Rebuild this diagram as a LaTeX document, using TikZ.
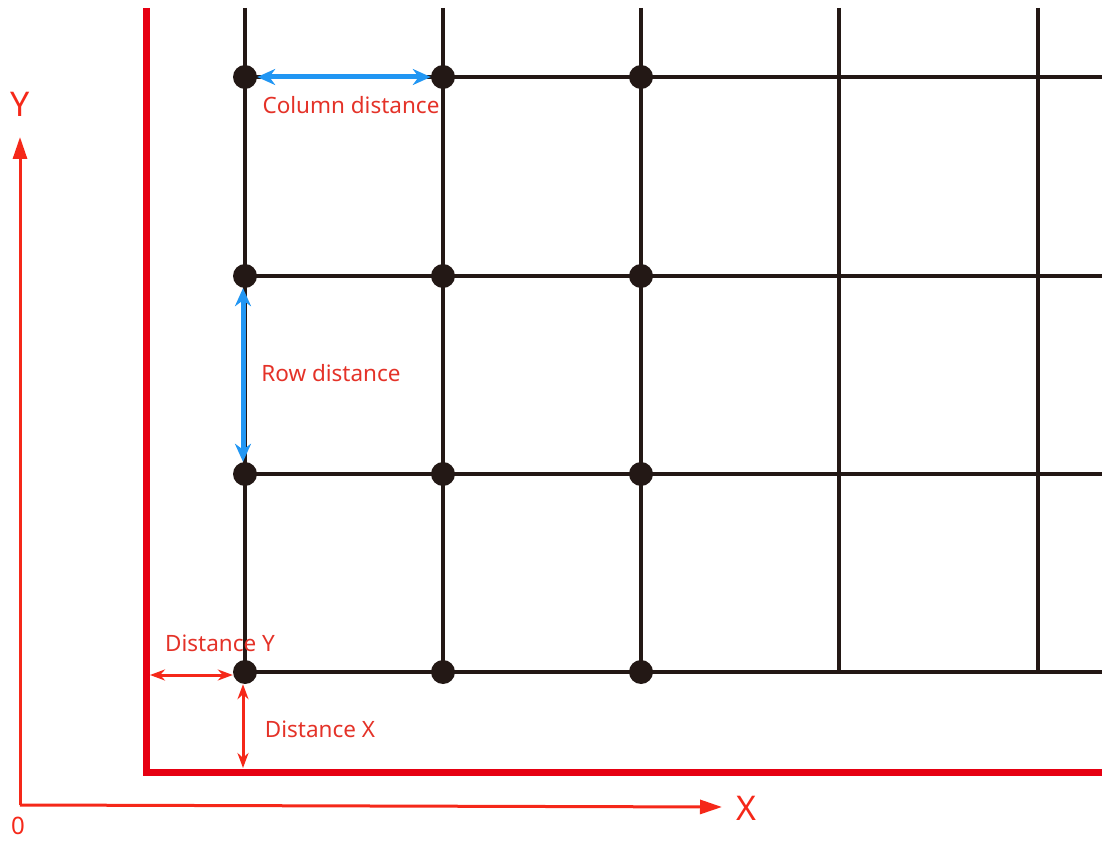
\documentclass[tikz,border=0pt]{standalone}
\usepackage{fontspec}
\setmainfont{Noto Sans}
\usetikzlibrary{arrows.meta}
\definecolor{gridc}{RGB}{35,24,21}
\definecolor{framec}{RGB}{230,0,18}
\definecolor{axisc}{RGB}{245,40,25}
\definecolor{labelc}{RGB}{228,50,40}
\definecolor{bluec}{RGB}{33,150,243}
\tikzset{
  gridline/.style={draw=gridc,line width=4},
  dotnode/.style={circle,fill=gridc,minimum size=24,inner sep=0},
  framepath/.style={draw=framec,line width=7,line join=miter},
  axis/.style={draw=axisc,line width=3,-{Triangle[length=22,width=14]}},
  bluearrow/.style={draw=bluec,line width=5,{Stealth[length=18,width=16]}-{Stealth[length=18,width=16]}},
  redarrow/.style={draw=axisc,line width=3,{Stealth[length=15,width=11]}-{Stealth[length=15,width=11]}},
  lbl/.style={text=labelc,font=\fontsize{22.5}{26}\selectfont,inner sep=0},
  biglbl/.style={text=axisc,font=\fontsize{34}{38}\selectfont,inner sep=0},
}
\begin{document}
\begin{tikzpicture}[x=1pt,y=-1pt]
\useasboundingbox (0,0) rectangle (1104,842);
% grid lines
\foreach \x in {245,443,641,839,1038} \draw[gridline] (\x,8) -- (\x,672);
\foreach \y in {77,276,474,672} \draw[gridline] (245,\y) -- (1102,\y);
% frame
\coordinate (ftop) at (146,8);
\coordinate (fcorner) at (146,772);
\coordinate (fright) at (1102,772);
\draw[framepath] (ftop) -- (fcorner) -- (fright);
% dots
\foreach \r/\y in {0/77,1/276,2/474,3/672}
  \foreach \c/\x in {0/245,1/443,2/641}
    \node[dotnode] (d\r\c) at (\x,\y) {};
% axes
\coordinate (origin) at (20,805);
\coordinate (ytip) at (20,137);
\coordinate (xtip) at (722,807);
\draw[axis] (origin) -- (ytip);
\draw[axis] (origin) -- (xtip);
\node[biglbl] (ylab) at (20,104) {Y};
\node[biglbl] (xlab) at (746,808) {X};
\node[text=axisc,font=\fontsize{24}{28}\selectfont,inner sep=0] (zlab) at (18,826) {0};
% blue arrows
\draw[bluearrow] (d00.east) -- (d01.west);
\node[lbl] (coltxt) at (351,105) {Column distance};
\draw[bluearrow] ([xshift=-2]d10.south) -- ([xshift=-2]d20.north);
\node[lbl] (rowtxt) at (331,373) {Row distance};
% red distances
\coordinate (fl) at (150,675);
\coordinate (fb) at (243,768);
\draw[redarrow] (fl) -- ([yshift=-3]d30.west);
\draw[redarrow] ([xshift=-2]d30.south) -- (fb);
\node[lbl] (dytxt) at (220,643) {Distance Y};
\node[lbl] (dxtxt) at (320,729) {Distance X};
\end{tikzpicture}
\end{document}
